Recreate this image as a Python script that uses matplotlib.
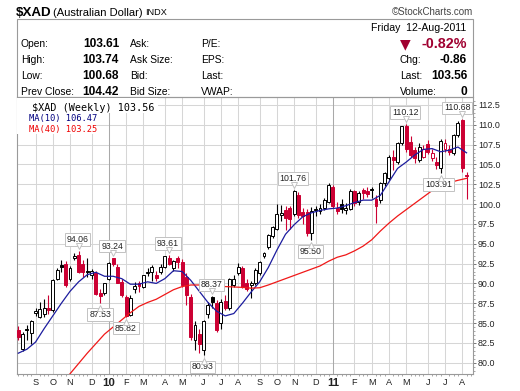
import matplotlib
matplotlib.use('Agg')
import matplotlib.pyplot as plt
from matplotlib.patches import Rectangle
from matplotlib.lines import Line2D
from matplotlib import transforms
import numpy as np

plt.rcParams['font.family'] = ['Liberation Sans', 'DejaVu Sans']

W, H = 520, 391

# ---------------- data (weekly bars, Aug 10 2009 .. Aug 8 2011) ----------------
opens = [84.1, 81.7, 84.3, 83.7, 86.3, 85.8, 86.2, 86.9, 86.6, 90.6,
         92.3, 92.4, 90.6, 93.2, 93.6, 92.5, 91.6, 91.1, 91.3, 88.8,
         88.8, 90.6, 93.2, 92.1, 90.2, 88.3, 86.0, 89.3, 90.1, 89.6,
         91.3, 91.5, 91.1, 91.5, 92.1, 93.15, 91.9, 93.15, 92.7, 90.8,
         88.3, 82.9, 83.6, 81.6, 86.2, 88.3, 87.5, 85.0, 87.8, 86.9,
         89.8, 91.3, 91.9, 90.1, 89.8, 90.0, 91.3, 93.4, 94.6, 96.0,
         96.9, 98.6, 99.3, 99.5, 98.8, 101.15, 99.0, 99.0, 96.3, 99.4,
         99.1, 99.5, 100.3, 102.2, 99.5, 100.0, 99.3, 99.4, 101.6, 100.3,
         101.75, 101.7, 101.85, 100.7, 100.5, 102.6, 103.25, 106.0, 105.35, 107.7,
         109.8, 107.8, 106.8, 105.6, 106.0, 107.6, 105.8, 105.35, 104.5, 107.0,
         107.0, 106.4, 108.7, 110.6, 103.7]
highs = [84.6, 83.9, 84.8, 85.4, 86.9, 87.7, 88.0, 88.5, 90.6, 92.0,
         92.9, 92.8, 92.2, 93.8, 94.06, 93.0, 93.2, 91.8, 91.6, 89.3,
         90.1, 92.7, 93.24, 92.4, 90.5, 88.6, 88.5, 90.2, 90.3, 91.1,
         91.9, 92.3, 91.6, 92.4, 93.5, 93.61, 93.0, 93.4, 93.1, 91.3,
         88.7, 85.2, 84.2, 85.4, 87.6, 88.37, 87.9, 88.0, 88.5, 90.7,
         91.1, 92.6, 92.2, 90.5, 90.3, 92.0, 92.8, 93.9, 96.2, 97.3,
         100.0, 99.9, 99.7, 99.7, 101.76, 101.5, 99.5, 99.4, 99.6, 99.7,
         100.0, 100.8, 102.6, 102.4, 100.3, 100.6, 100.2, 101.9, 101.8, 101.6,
         102.0, 102.1, 102.1, 101.15, 102.8, 104.0, 106.2, 106.8, 107.8, 109.9,
         110.12, 108.6, 107.2, 107.7, 107.4, 108.1, 106.9, 106.0, 108.2, 108.2,
         107.5, 108.9, 110.5, 110.68, 104.0]
lows = [82.9, 81.5, 82.9, 82.4, 85.9, 85.6, 85.8, 86.1, 86.4, 90.4,
        91.4, 89.6, 90.3, 92.9, 91.3, 90.8, 90.8, 90.6, 88.6, 87.53,
        88.5, 90.4, 92.2, 90.0, 88.3, 85.82, 85.9, 88.8, 88.9, 89.4,
        90.9, 90.3, 90.3, 91.2, 91.9, 92.3, 91.6, 91.9, 89.5, 87.3,
        82.8, 81.6, 81.2, 80.93, 85.6, 86.9, 83.9, 84.3, 86.6, 86.6,
        89.5, 91.0, 89.4, 89.0, 88.1, 89.8, 91.0, 93.2, 94.4, 95.7,
        96.7, 97.9, 96.7, 96.9, 98.5, 98.2, 97.5, 96.0, 95.5, 98.5,
        98.8, 99.3, 100.1, 99.5, 98.7, 98.9, 98.8, 99.2, 99.8, 99.9,
        100.7, 100.9, 100.8, 97.58, 100.2, 102.3, 103.0, 104.3, 105.1, 107.5,
        106.6, 105.9, 105.2, 105.3, 105.8, 106.3, 105.4, 104.4, 103.91, 106.6,
        106.2, 106.2, 108.5, 104.1, 100.68]
closes = [83.3, 83.6, 84.1, 85.2, 86.5, 86.8, 86.85, 86.6, 90.4, 91.7,
          92.1, 89.8, 91.9, 93.5, 91.5, 91.4, 91.5, 91.55, 88.7, 88.4,
          90.0, 92.6, 92.4, 90.1, 88.5, 85.9, 88.2, 89.7, 89.65, 91.05,
          91.5, 92.1, 90.65, 92.1, 93.4, 92.5, 92.8, 92.65, 89.8, 88.5,
          83.3, 84.7, 82.3, 85.2, 87.3, 87.6, 84.1, 87.7, 86.9, 90.5,
          90.6, 92.1, 89.6, 89.3, 90.0, 91.7, 92.7, 93.8, 96.1, 97.15,
          98.8, 98.9, 98.2, 98.1, 101.6, 98.6, 98.5, 96.3, 99.1, 99.2,
          99.5, 100.5, 102.4, 99.7, 99.1, 99.4, 99.5, 101.6, 100.1, 101.4,
          101.35, 101.3, 101.75, 99.7, 102.6, 103.9, 106.0, 105.6, 107.7, 109.8,
          107.0, 106.2, 105.8, 107.2, 107.0, 106.6, 106.4, 104.9, 107.9, 107.7,
          106.6, 108.7, 110.2, 104.5, 103.56]

# moving averages (every second week)
ma10_x = list(range(0, 105, 2))
ma10_y = [81.2, 81.7, 82.6, 84.3, 85.9, 87.5, 89.0, 90.2, 91.1, 91.4,
          90.9, 90.9, 90.6, 89.9, 89.9, 90.2, 90.0, 90.6, 91.6, 91.5,
          90.4, 89.0, 87.6, 86.5, 85.9, 86.2, 87.5, 88.9, 90.2, 92.0,
          94.2, 96.2, 97.4, 98.4, 98.9, 99.2, 99.4, 99.5, 99.8, 100.2,
          100.5, 100.5, 101.1, 102.8, 104.5, 105.3, 106.2, 106.9, 107.0, 106.6,
          106.8, 107.2, 106.47]
ma40_x = list(range(10, 105, 2))
ma40_y = [77.4, 78.6, 79.9, 81.2, 82.4, 83.6, 84.5, 85.4, 86.3, 87.1,
          87.6, 88.0, 88.6, 89.2, 89.6, 89.8, 89.8, 89.75, 89.7, 89.6,
          89.55, 89.5, 89.4, 89.45, 89.8, 90.2, 90.6, 91.0, 91.4, 91.8,
          92.2, 92.8, 93.3, 93.6, 94.1, 94.7, 95.5, 96.6, 97.6, 98.5,
          99.3, 100.1, 100.9, 101.7, 102.3, 102.7, 103.0, 103.25]

month_idx = [4, 8, 12, 17, 21, 25, 29, 34, 38, 43, 47, 51,
             56, 60, 64, 69, 73, 78, 82, 86, 90, 95, 99, 103]
month_lab = ['S', 'O', 'N', 'D', '10', 'F', 'M', 'A', 'M', 'J', 'J', 'A',
             'S', 'O', 'N', 'D', '11', 'F', 'M', 'A', 'M', 'J', 'J', 'A']

# labelled extremes: (bar index, value, above?, dx px)
marks = [(14, 94.06, True, -1), (22, 93.24, True, -1), (19, 87.53, False, 0),
         (25, 85.82, False, 0), (35, 93.61, True, -1), (43, 80.93, False, -1),
         (45, 88.37, True, -1), (64, 101.76, True, -1), (68, 95.50, False, -1),
         (90, 110.12, True, -1), (98, 103.91, False, -2), (103, 110.68, True, -5)]

# ---------------- figure ----------------
fig = plt.figure(figsize=(W / 100, H / 100), dpi=100)
fig.patch.set_facecolor('white')

def fx(x):
    return x / W

def fy(y):
    return 1 - y / H

L, R, T, B = 16.7, 472.7, 97.3, 374.0
ax = fig.add_axes([fx(L), fy(B), (R - L) / W, (B - T) / H])
ax.set_xlim(-0.37, 105.43)
ax.set_ylim(78.575, 113.47)

GRID = '#d6d6d6'
# grid
for v in np.arange(80, 113, 2.5):
    ax.axhline(v, color=GRID, lw=0.75, zorder=0)
for idx, lab in zip(month_idx, month_lab):
    yr = lab in ('10', '11')
    ax.axvline(idx, color='#a9a9a9' if yr else GRID, lw=0.75, zorder=0)

RED = '#cc0033'
n = len(closes)
for i in range(n):
    o, h, l, c = opens[i], highs[i], lows[i], closes[i]
    prev = closes[i - 1] if i > 0 else o
    col = 'black' if c >= prev else RED
    filled = c < o
    ax.vlines(i, l, h, color=col, lw=0.8, zorder=3)
    bot = min(o, c)
    ht = max(abs(c - o), 0.08)
    ax.add_patch(Rectangle((i - 0.34, bot), 0.68, ht,
                           facecolor=col if filled else 'white',
                           edgecolor=col, lw=0.7, zorder=4))

ax.plot(ma10_x, ma10_y, color='#1c1c9e', lw=0.9, zorder=5)
ax.plot(ma40_x, ma40_y, color='#f01818', lw=0.9, zorder=5)

# labelled extremes
for i, v, above, dx in marks:
    sgn = 1 if above else -1
    ax.annotate(f'{v:.2f}', xy=(i, v), xytext=(dx * 0.72, sgn * 11.5 * 0.72),
                textcoords='offset points', ha='center', va='center',
                fontsize=6.3, color='#222222',
                bbox=dict(boxstyle='square,pad=0.2', fc='white', ec='#c2c2c2', lw=0.7),
                zorder=8)
    tr = transforms.offset_copy(ax.transData, fig=fig, x=0, y=sgn * 5.2 * 0.72, units='points')
    ax.plot([i], [v], marker='v' if above else '^', ms=4.2, mfc='white',
            mec='#c2c2c2', mew=0.7, transform=tr, zorder=9, clip_on=False)

# axes styling
for s in ax.spines.values():
    s.set_color('#9a9a9a')
    s.set_linewidth(0.8)
ax.yaxis.tick_right()
ax.set_yticks(np.arange(80, 113, 2.5))
ax.set_yticklabels([f'{v:.1f}' for v in np.arange(80, 113, 2.5)])
ax.set_yticks(np.arange(79, 113.5, 0.5), minor=True)
ax.tick_params(axis='y', which='major', length=2.2, width=0.7, color='#777777',
               pad=1.6, labelsize=6.4, labelcolor='#222222')
ax.tick_params(axis='y', which='minor', length=1.1, width=0.6, color='#999999')
ax.set_xticks(month_idx)
ax.set_xticklabels(month_lab)
ax.set_xticks(range(0, 106), minor=True)
ax.tick_params(axis='x', which='major', length=0, pad=3.0, labelsize=6.6,
               labelcolor='#222222')
ax.tick_params(axis='x', which='minor', length=1.2, width=0.6, color='#999999')
for t in ax.get_xticklabels():
    if t.get_text() in ('10', '11'):
        t.set_fontweight('bold')
        t.set_fontsize(8.2)

# legend inside plot
legend_font = ['DejaVu Sans Mono']
ax.add_patch(Rectangle((0, 0), 1, 1, transform=transforms.Bbox.from_extents(0, 0, 1, 1) and ax.transAxes,
                       visible=False))
fig.patches.append(Rectangle((fx(17.2), fy(134)), (96 - 17.2) / W, (134 - 98) / H,
                             transform=fig.transFigure, fc='white', ec='none', zorder=6))
fig.patches.append(Rectangle((fx(96), fy(113)), (158 - 96) / W, (113 - 98) / H,
                             transform=fig.transFigure, fc='white', ec='none', zorder=6))
fig.text(fx(31.5), fy(107.8), '$XAD (Weekly) 103.56', family=legend_font,
         fontsize=7.3, ha='left', va='center', color='black', zorder=10)
fig.text(fx(29.0), fy(118.5), 'MA(10) 106.47', family=legend_font,
         fontsize=6.3, ha='left', va='center', color='#000080', zorder=10)
fig.text(fx(29.0), fy(129.5), 'MA(40) 103.25', family=legend_font,
         fontsize=6.3, ha='left', va='center', color='#ee0000', zorder=10)
fig.add_artist(Line2D([fx(20), fx(27.5)], [fy(118.5), fy(118.5)], color='#000080', lw=1.6,
                      transform=fig.transFigure))
fig.add_artist(Line2D([fx(20), fx(27.5)], [fy(129.5), fy(129.5)], color='#ee0000', lw=1.6,
                      transform=fig.transFigure))
# small candle icon
for xx, y0, y1, b0, b1, fillc in [(21.2, 103.5, 112, 105.5, 110, 'black'),
                                  (24.6, 102.5, 111, 104.5, 108, 'white'),
                                  (28.0, 104, 111.5, 105, 109.5, 'black')]:
    fig.add_artist(Line2D([fx(xx), fx(xx)], [fy(y0), fy(y1)], color='black', lw=0.7,
                          transform=fig.transFigure))
    fig.patches.append(Rectangle((fx(xx - 1.1), fy(b1)), 2.2 / W, (b1 - b0) / H,
                                 transform=fig.transFigure, fc=fillc, ec='black', lw=0.5))

# ---------------- header ----------------
fig.patches.append(Rectangle((fx(16.7), fy(97.3)), (472.7 - 16.7) / W, (97.3 - 19.3) / H,
                             transform=fig.transFigure, fill=False, ec='#9a9a9a', lw=0.8))
fig.text(fx(16), fy(12.6), '$XAD', fontsize=9.6, fontweight='bold', ha='left', va='center')
fig.text(fx(53), fy(12.6), '(Australian Dollar)', fontsize=8.0, ha='left', va='center')
fig.text(fx(145), fy(12.8), 'INDX', fontsize=6.6, ha='left', va='center')
fig.text(fx(473), fy(12.2), '\u00a9StockCharts.com', fontsize=7.0, ha='right', va='center',
         color='#444444')

fig.text(fx(466.7), fy(28.3), 'Friday  12-Aug-2011', fontsize=7.6, ha='right', va='center')

row_y = [44, 60, 76, 92]
labels1 = ['Open:', 'High:', 'Low:', 'Prev Close:']
values1 = ['103.61', '103.74', '100.68', '104.42']
labels2 = ['Ask:', 'Ask Size:', 'Bid:', 'Bid Size:']
labels3 = ['P/E:', 'EPS:', 'Last:', 'VWAP:']
for yy, a, b, c2, d in zip(row_y, labels1, values1, labels2, labels3):
    fig.text(fx(20.7), fy(yy), a, fontsize=7.4, ha='left', va='center')
    fig.text(fx(119), fy(yy), b, fontsize=8.6, fontweight='bold', ha='right', va='center')
    fig.text(fx(129.7), fy(yy), c2, fontsize=7.4, ha='left', va='center')
    fig.text(fx(200.7), fy(yy), d, fontsize=7.4, ha='left', va='center')

DRED = '#a00030'
fig.text(fx(400), fy(44), '\u25bc', fontsize=10, ha='left', va='center', color=DRED,
         family=['DejaVu Sans'])
fig.text(fx(467), fy(44), '-0.82%', fontsize=10.3, fontweight='bold', ha='right', va='center',
         color=DRED)
for yy, a, b in zip(row_y[1:], ['Chg:', 'Last:', 'Volume:'], ['-0.86', '103.56', '0']):
    fig.text(fx(400), fy(yy), a, fontsize=7.4, ha='left', va='center')
    fig.text(fx(467), fy(yy), b, fontsize=8.6, fontweight='bold', ha='right', va='center')

fig.savefig('out.png', dpi=100, facecolor='white')
